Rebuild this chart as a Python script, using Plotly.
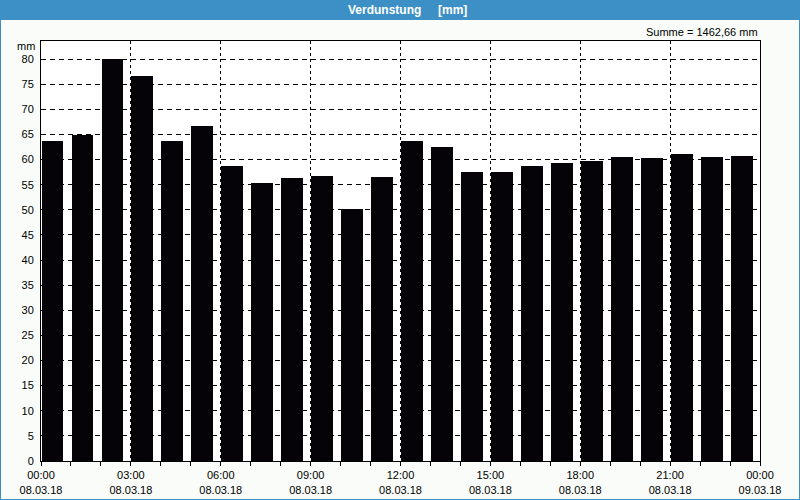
import plotly.graph_objects as go

# Stundenwerte 08.03.18 (Beginn der Stunde)
stunden = list(range(24))
verdunstung = [63.7, 64.9, 80.0, 76.6, 63.7, 66.6, 58.8, 55.4, 56.3, 56.8, 50.1, 56.6,
               63.7, 62.5, 57.5, 57.5, 58.8, 59.4, 59.8, 60.5, 60.3, 61.1, 60.5, 60.7]

tick_pos = [0, 3, 6, 9, 12, 15, 18, 21, 24]
tick_text = ["00:00<br>08.03.18", "03:00<br>08.03.18", "06:00<br>08.03.18",
             "09:00<br>08.03.18", "12:00<br>08.03.18", "15:00<br>08.03.18",
             "18:00<br>08.03.18", "21:00<br>08.03.18", "00:00<br>09.03.18"]

W, H = 800, 500
L, T = 41, 41
PW, PH = 719, 420
R, B = W - L - PW, H - T - PH
BLUE = "#3d90c6"
FONT = "Liberation Sans"


def px_x(x):
    # pixel -> paper x
    return (x - L) / PW


def px_y(y):
    # pixel (from top) -> paper y
    return 1 - (y - T) / PH


fig = go.Figure()
fig.add_trace(go.Bar(
    x=stunden,
    y=verdunstung,
    width=0.73,
    offset=0.02,
    marker=dict(color="#050308", line=dict(width=0)),
))

fig.update_layout(
    width=W, height=H,
    margin=dict(l=L, r=R, t=T, b=B),
    paper_bgcolor="#f9fcf9",
    plot_bgcolor="white",
    showlegend=False,
    font=dict(family=FONT, size=11, color="black"),
    bargap=0,
)

fig.update_xaxes(
    range=[0, 24], automargin=False,
    tickvals=tick_pos, ticktext=tick_text,
    ticks="outside", ticklen=4, tickcolor="black",
    minor=dict(dtick=1, tick0=0, ticks="outside", ticklen=4, tickcolor="black", showgrid=False),
    showgrid=True, gridcolor="black", gridwidth=1, griddash="3px,3px",
    showline=True, linecolor="black", linewidth=1, mirror=True,
    zeroline=False,
    tickfont=dict(family=FONT, size=11),
)
fig.update_yaxes(
    range=[0, 83.6], automargin=False,
    dtick=5, tick0=0,
    showgrid=True, gridcolor="black", gridwidth=1, griddash="5px,4px",
    showline=True, linecolor="black", linewidth=1, mirror=True,
    zeroline=False,
    ticks="", ticklabelstandoff=4,
    tickfont=dict(family=FONT, size=11),
)

# Titelleiste und Rahmen
fig.add_shape(type="rect", xref="paper", yref="paper", layer="below",
              x0=px_x(0), x1=px_x(W), y0=px_y(20), y1=px_y(0),
              fillcolor=BLUE, line=dict(width=0))
fig.add_shape(type="rect", xref="paper", yref="paper", layer="below",
              x0=px_x(0), x1=px_x(1), y0=px_y(H), y1=px_y(0),
              fillcolor=BLUE, line=dict(width=0))
fig.add_shape(type="rect", xref="paper", yref="paper", layer="below",
              x0=px_x(W - 1), x1=px_x(W), y0=px_y(H), y1=px_y(0),
              fillcolor=BLUE, line=dict(width=0))
fig.add_shape(type="rect", xref="paper", yref="paper", layer="below",
              x0=px_x(0), x1=px_x(W), y0=px_y(H), y1=px_y(H - 1),
              fillcolor=BLUE, line=dict(width=0))

fig.add_annotation(text="<b>Verdunstung     [mm]</b>", xref="paper", yref="paper",
                   x=px_x(407), y=px_y(10), showarrow=False,
                   xanchor="center", yanchor="middle",
                   font=dict(family=FONT, size=12, color="white"))
fig.add_annotation(text="Summe = 1462,66 mm", xref="paper", yref="paper",
                   x=1, y=px_y(32), showarrow=False,
                   xanchor="right", yanchor="middle",
                   font=dict(family=FONT, size=11, color="black"))
fig.add_annotation(text="mm", xref="paper", yref="paper",
                   x=px_x(37), y=px_y(46), showarrow=False,
                   xanchor="right", yanchor="middle",
                   font=dict(family=FONT, size=11, color="black"))

# Seitenrand des Browsers entfernen, damit die Grafik bei (0, 0) beginnt
fig.write_html("out.html", config={"displayModeBar": False},
               post_script="document.body.style.margin = '0';")
